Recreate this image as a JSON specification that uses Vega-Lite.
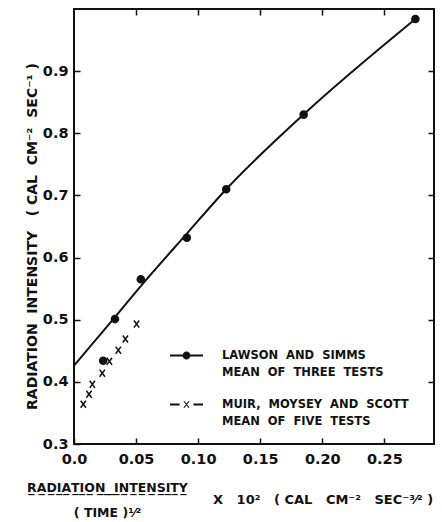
{
  "$schema": "https://vega.github.io/schema/vega-lite/v6.json",
  "width": 360,
  "height": 435,
  "autosize": "none",
  "padding": {"left": 74, "top": 9, "right": 8, "bottom": 78},
  "background": "white",
  "config": {
    "view": {"stroke": "#111", "strokeWidth": 2},
    "style": {"guide-label": {"lineHeight": 17}},
    "axis": {
      "domain": false,
      "grid": false,
      "labelFlush": false,
      "labelFont": "DejaVu Sans",
      "labelFontWeight": "bold",
      "labelFontSize": 14.5,
      "labelColor": "#111",
      "titleFont": "DejaVu Sans",
      "titleFontWeight": "bold",
      "titleColor": "#111"
    },
    "legend": {
      "orient": "none",
      "legendX": 96,
      "legendY": 330,
      "padding": 0,
      "symbolSize": 1089,
      "symbolStrokeWidth": 0,
      "symbolFillColor": "#111",
      "labelFont": "DejaVu Sans",
      "labelFontWeight": "bold",
      "labelFontSize": 11.5,
      "labelColor": "#111",
      "labelOffset": 19,
      "labelLimit": 400,
      "rowPadding": 10
    }
  },
  "datasets": {
    "curve": [
      {"x": 0, "y": 0.426},
      {"x": 0.033, "y": 0.504},
      {"x": 0.0538, "y": 0.554},
      {"x": 0.0911, "y": 0.639},
      {"x": 0.1226, "y": 0.71},
      {"x": 0.1847, "y": 0.83},
      {"x": 0.275, "y": 0.984}
    ],
    "points": [
      {"series": "Lawson and Simms", "x": 0.0235, "y": 0.434},
      {"series": "Lawson and Simms", "x": 0.033, "y": 0.501},
      {"series": "Lawson and Simms", "x": 0.0538, "y": 0.565},
      {"series": "Lawson and Simms", "x": 0.0909, "y": 0.632},
      {"series": "Lawson and Simms", "x": 0.1226, "y": 0.71},
      {"series": "Lawson and Simms", "x": 0.185, "y": 0.83},
      {"series": "Lawson and Simms", "x": 0.275, "y": 0.984},
      {"series": "Muir, Moysey and Scott", "x": 0.0075, "y": 0.364},
      {"series": "Muir, Moysey and Scott", "x": 0.0121, "y": 0.38},
      {"series": "Muir, Moysey and Scott", "x": 0.0148, "y": 0.396},
      {"series": "Muir, Moysey and Scott", "x": 0.0228, "y": 0.414},
      {"series": "Muir, Moysey and Scott", "x": 0.0285, "y": 0.433},
      {"series": "Muir, Moysey and Scott", "x": 0.0357, "y": 0.451},
      {"series": "Muir, Moysey and Scott", "x": 0.0414, "y": 0.469},
      {"series": "Muir, Moysey and Scott", "x": 0.0504, "y": 0.493}
    ]
  },
  "title": {
    "text": "X\u00a0\u00a0\u00a010²\u00a0\u00a0\u00a0(\u00a0CAL\u00a0\u00a0\u00a0CM⁻²\u00a0\u00a0\u00a0SEC⁻³⁄²\u00a0)",
    "orient": "bottom",
    "anchor": "start",
    "frame": "group",
    "dx": 139,
    "dy": -25,
    "offset": 0,
    "font": "DejaVu Sans",
    "fontWeight": "bold",
    "fontSize": 13,
    "color": "#111"
  },
  "layer": [
    {
      "data": {"name": "curve"},
      "mark": {"type": "line", "interpolate": "monotone", "color": "#111", "strokeWidth": 2},
      "encoding": {
        "x": {
          "field": "x", "type": "quantitative",
          "scale": {"domain": [0, 0.29], "nice": false},
          "axis": {
            "orient": "bottom",
            "values": [0, 0.05, 0.1, 0.15, 0.2, 0.25],
            "ticks": true, "tickSize": 6, "tickWidth": 1.5, "tickColor": "#111", "offset": -6, "zindex": 2,
            "labelExpr": "datum.value == 0 ? '0.0' : format(datum.value, '.2f')",
            "labelPadding": 8,
            "title": ["R̲A̲D̲I̲A̲T̲I̲O̲N̲\u00a0̲\u00a0̲I̲N̲T̲E̲N̲S̲I̲T̲Y̲", "(\u00a0TIME\u00a0)¹⁄²"],
            "titleX": 33,
            "titleY": 53,
            "titleAlign": "center",
            "titleBaseline": "alphabetic",
            "titleLineHeight": 25,
            "titleFontSize": 12.5
          }
        },
        "y": {
          "field": "y", "type": "quantitative",
          "scale": {"domain": [0.3, 1.0], "nice": false, "zero": false},
          "axis": {
            "orient": "left",
            "values": [0.3, 0.4, 0.5, 0.6, 0.7, 0.8, 0.9],
            "ticks": true, "tickSize": 6, "tickWidth": 1.5, "tickColor": "#111", "offset": -6, "zindex": 2,
            "format": ".1f",
            "labelPadding": 6,
            "title": "RADIATION\u00a0\u00a0INTENSITY\u00a0\u00a0\u00a0(\u00a0CAL\u00a0\u00a0CM⁻²\u00a0\u00a0SEC⁻¹\u00a0)",
            "titleX": -43.5,
            "titleY": 227,
            "titleBaseline": "alphabetic",
            "titleFontSize": 14
          }
        }
      }
    },
    {
      "data": {"name": "points"},
      "mark": {"type": "point", "filled": true, "fill": "#111", "stroke": "#111", "strokeWidth": 1.5, "size": 50, "opacity": 1},
      "encoding": {
        "x": {
          "field": "x", "type": "quantitative",
          "axis": {"orient": "top", "values": [0.05, 0.1, 0.15, 0.2, 0.25], "labels": false, "title": null,
                   "ticks": true, "tickSize": 6, "tickWidth": 1.5, "tickColor": "#111", "offset": -6, "zindex": 2}
        },
        "y": {
          "field": "y", "type": "quantitative",
          "axis": {"orient": "right", "values": [0.4, 0.5, 0.6, 0.7, 0.8, 0.9], "labels": false, "title": null,
                   "ticks": true, "tickSize": 6, "tickWidth": 1.5, "tickColor": "#111", "offset": -6, "zindex": 2}
        },
        "shape": {
          "field": "series", "type": "nominal",
          "scale": {
            "domain": ["Lawson and Simms", "Muir, Moysey and Scott"],
            "range": ["circle", "M-0.75,-1L0.75,1M-0.75,1L0.75,-1"]
          },
          "legend": null
        }
      }
    },
    {
      "data": {"values": []},
      "mark": {"type": "point", "filled": true, "color": "#111", "opacity": 1},
      "encoding": {
        "shape": {
          "field": "label", "type": "nominal",
          "scale": {
            "domain": ["LAWSON\u00a0\u00a0AND\u00a0\u00a0SIMMS|MEAN\u00a0\u00a0OF\u00a0\u00a0THREE\u00a0\u00a0TESTS", "MUIR,\u00a0\u00a0MOYSEY\u00a0\u00a0AND\u00a0\u00a0SCOTT|MEAN\u00a0\u00a0OF\u00a0\u00a0FIVE\u00a0\u00a0TESTS"],
            "range": [
              "M-1,-0.06L1,-0.06L1,0.06L-1,0.06Z M-0.24,0A0.24,0.24 0 1,1 0.24,0A0.24,0.24 0 1,1 -0.24,0Z",
              "M-1,-0.06L-0.42,-0.06L-0.42,0.06L-1,0.06Z M0.42,-0.06L1,-0.06L1,0.06L0.42,0.06Z M-0.19,-0.2L-0.11,-0.2L0.19,0.2L0.11,0.2Z M0.11,-0.2L0.19,-0.2L-0.11,0.2L-0.19,0.2Z"
            ]
          },
          "legend": {
            "title": null,
            "labelExpr": "split(datum.label, '|')",
            "symbolOpacity": 1
          }
        }
      }
    }
  ],
  "resolve": {"axis": {"x": "independent", "y": "independent"}, "scale": {"shape": "independent"}}
}
